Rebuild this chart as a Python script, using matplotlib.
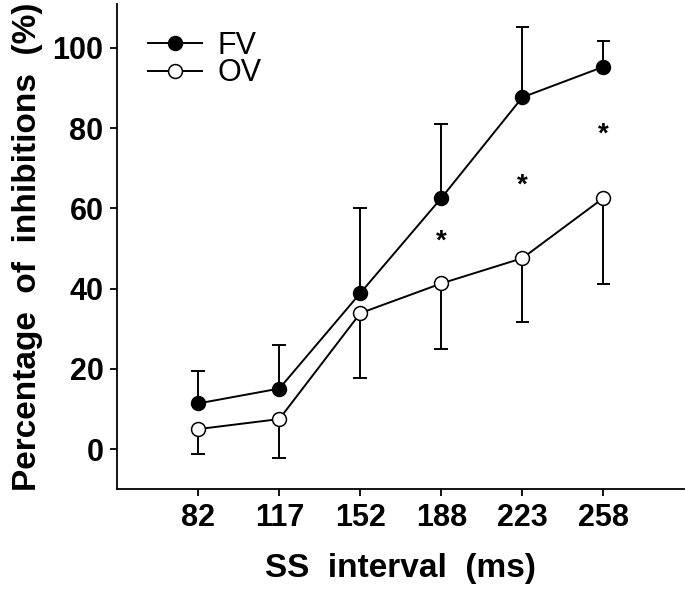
import numpy as np
import matplotlib.pyplot as plt

plt.rcParams['font.family'] = ['Liberation Sans', 'DejaVu Sans']

intervals = ['82', '117', '152', '188', '223', '258']
fv_mean = [11.4, 15.1, 38.9, 62.6, 87.7, 95.3]
fv_upper = [19.6, 25.9, 60.1, 81.1, 105.1, 101.7]
ov_mean = [5.0, 7.5, 33.9, 41.3, 47.6, 62.6]
ov_lower = [-1.2, -2.3, 17.8, 24.9, 31.7, 41.2]
star_idx = [3, 4, 5]
star_y = [51.7, 65.8, 78.4]

x = np.arange(len(intervals))
cap = 0.085

fig = plt.figure(figsize=(6.85, 5.94), dpi=100)
ax = fig.add_axes([0.1712, 0.1763, 0.828, 0.8173])

# one sided error bars
ax.vlines(x, fv_mean, fv_upper, color='black', lw=1.4, zorder=1)
ax.hlines(fv_upper, x - cap, x + cap, color='black', lw=1.4, zorder=1)
ax.vlines(x, ov_mean, ov_lower, color='black', lw=1.4, zorder=1)
ax.hlines(ov_lower, x - cap, x + cap, color='black', lw=1.4, zorder=1)

ax.plot(x, fv_mean, '-o', color='black', mfc='black', mec='black',
        ms=10, lw=1.4, mew=1.1, label='FV', zorder=3)
ax.plot(x, ov_mean, '-o', color='black', mfc='white', mec='black',
        ms=10, lw=1.4, mew=1.1, label='OV', zorder=3)

for i, yy in zip(star_idx, star_y):
    ax.text(x[i], yy, '*', ha='center', va='center', fontsize=20,
            fontweight='bold')

ax.set_xlim(-1, 6)
ax.set_ylim(-10, 111)
ax.set_xticks(x)
ax.set_xticklabels(intervals)
ax.set_yticks([0, 20, 40, 60, 80, 100])

for s in ['top', 'right']:
    ax.spines[s].set_visible(False)
for s in ['left', 'bottom']:
    ax.spines[s].set_linewidth(1.3)
ax.tick_params(direction='out', length=5, width=1.3, labelsize=22, pad=5)
for lab in ax.get_xticklabels() + ax.get_yticklabels():
    lab.set_fontweight('bold')

ax.set_xlabel('SS  interval  (ms)', fontsize=24, fontweight='bold', labelpad=14)
ax.set_ylabel('Percentage  of  inhibitions  (%)', fontsize=24,
              fontweight='bold', labelpad=7)

ax.legend(loc='upper left', bbox_to_anchor=(0.054, 0.945), frameon=False,
          fontsize=22, handlelength=1.76, handletextpad=0.52, labelspacing=-0.07,
          borderpad=0, borderaxespad=0)

fig.savefig('out.png', dpi=100)
